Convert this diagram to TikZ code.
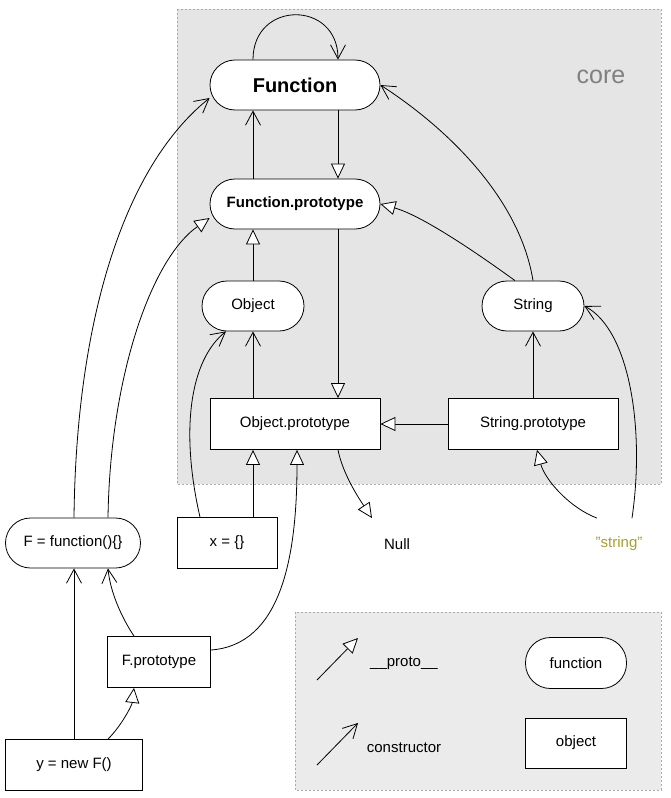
\documentclass[tikz,border=0pt]{standalone}
\usepackage{fontspec}
\setmainfont{Liberation Sans}
\usetikzlibrary{arrows.meta}
\definecolor{coregray}{RGB}{229,229,229}
\definecolor{keygray}{RGB}{235,235,235}
\definecolor{framegray}{RGB}{170,170,170}
\definecolor{strolive}{RGB}{165,160,48}
\tikzset{
  fn/.style={draw, fill=white, rounded corners=25pt, minimum height=50pt, inner sep=0pt},
  obj/.style={draw, fill=white, minimum height=51pt, inner sep=0pt},
  plain/.style={minimum width=100pt, minimum height=51pt, inner sep=0pt},
  group/.style={draw=framegray, dash pattern=on 2pt off 2pt},
  proto/.style={-{Triangle[open, length=15pt, width=14pt, fill=white]}},
  ctor/.style={-{Straight Barb[length=14pt, width=15pt]}},
}
\begin{document}
\begin{tikzpicture}[x=1pt, y=-1pt, line width=0.8pt, font=\fontsize{15}{18}\selectfont]
    \useasboundingbox (0,0) rectangle (670,798);
    % groups
    \draw[group, fill=coregray] (177,9) rectangle (661,484);
    \draw[group, fill=keygray] (295,612) rectangle (661,790);
    \draw (601,77) node[text=gray, font=\fontsize{25}{29}\selectfont](core) {core};

    % core objects
    \draw (295,85) node[fn, minimum width=170pt, font=\fontsize{20}{23}\selectfont\bfseries](Function) {Function};
    \draw (295,204) node[fn, minimum width=170pt, font=\fontsize{15}{18}\selectfont\bfseries](FunctionProto) {Function.prototype};
    \draw (253,306) node[fn, minimum width=102pt](Object) {Object};
    \draw (533,306) node[fn, minimum width=102pt](String) {String};
    \draw (295,424) node[obj, minimum width=170pt](ObjectProto) {Object.prototype};
    \draw (533,424) node[obj, minimum width=170pt](StringProto) {String.prototype};

    % outside
    \draw (227,543) node[obj, minimum width=100pt](X) {x = \{\}};
    \draw (397,544) node[plain](Null) {Null};
    \draw (619,544) node[plain, text=strolive](Str) {"string"};
    \draw (73,543) node[fn, minimum width=135pt](F) {F = function()\{\}};
    \draw (159,662) node[obj, minimum width=103pt](FProto) {F.prototype};
    \draw (74,765) node[obj, minimum width=137pt](Y) {y = new F()};

    % legend
    \draw (404,663) node(protoLabel) {\_\_proto\_\_};
    \draw (404,748) node(ctorLabel) {constructor};
    \draw (576,663) node[fn, minimum width=101pt, minimum height=51pt](fnKey) {function};
    \draw (576,743) node[obj, minimum width=101pt, minimum height=50pt](objKey) {object};
    \coordinate (protoFrom) at (317,680);
    \coordinate (protoTo) at (358,638);
    \coordinate (ctorFrom) at (317,765);
    \coordinate (ctorTo) at (358,723);
    \draw[proto] (protoFrom) -- (protoTo);
    \draw[ctor] (ctorFrom) -- (ctorTo);

    % core links
    \draw[ctor] ([xshift=-42pt]Function.north) .. controls (253,0) and (338,0) .. ([xshift=43pt]Function.north);
    \draw[ctor] ([xshift=-42pt]FunctionProto.north) -- ([xshift=-42pt]Function.south);
    \draw[proto] ([xshift=43pt]Function.south) -- ([xshift=43pt]FunctionProto.north);
    \draw[proto] (Object.north) -- (Object.north |- FunctionProto.south);
    \draw[ctor] ([xshift=-42pt]ObjectProto.north) -- (Object.south);
    \draw[proto] ([xshift=43pt]FunctionProto.south) -- ([xshift=43pt]ObjectProto.north);
    \draw[proto] (StringProto.west) -- (ObjectProto.east);
    \draw[ctor] (StringProto.north) -- (String.south);
    \draw[proto] ([xshift=-18pt]String.north) .. controls (470,248) and (420,215) .. (FunctionProto.east);
    \draw[ctor] (String.north) .. controls (520,200) and (450,130) .. (Function.east);
    \draw[proto] ([xshift=43pt]ObjectProto.south) .. controls (343,475) and (360,500) .. ([xshift=-25pt]Null.north);

    % "string"
    \draw[proto] ([xshift=-22pt]Str.north) .. controls (570,508) and (545,480) .. ([xshift=4pt]StringProto.south);
    \draw[ctor] ([xshift=13pt]Str.north) .. controls (645,430) and (630,330) .. (String.east);

    % x = {}
    \draw[proto] ([xshift=26pt]X.north) -- ([xshift=-42pt]ObjectProto.south);
    \draw[ctor] ([xshift=-27pt]X.north) .. controls (180,430) and (190,360) .. ([xshift=-27pt]Object.south);

    % F and y
    \draw[ctor] ([xshift=1pt]F.north) .. controls (76,330) and (120,170) .. ([yshift=-13pt]Function.west);
    \draw[proto] ([xshift=35pt]F.north) .. controls (110,380) and (150,260) .. ([yshift=-14pt]FunctionProto.west);
    \draw[proto] ([yshift=12pt]FProto.east) .. controls (280,645) and (297,560) .. ([xshift=2pt]ObjectProto.south);
    \draw[ctor] ([xshift=-25pt]FProto.north) .. controls (120,615) and (110,590) .. ([xshift=35pt]F.south);
    \draw[proto] ([xshift=34pt]Y.north) .. controls (122,725) and (132,705) .. ([xshift=-25pt]FProto.south);
    \draw[ctor] (Y.north) -- (Y.north |- F.south);
\end{tikzpicture}
\end{document}
